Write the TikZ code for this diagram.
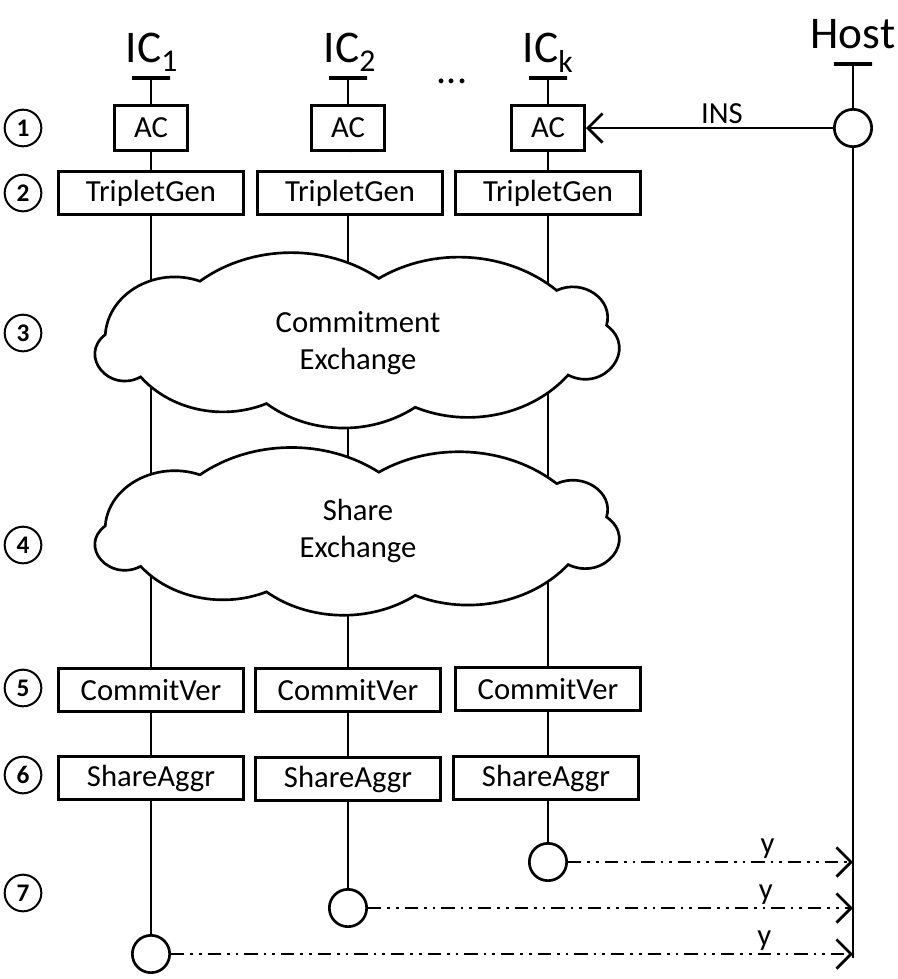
\documentclass[tikz,border=0pt]{standalone}
\usepackage{fontspec}
\setmainfont{Carlito}
\usetikzlibrary{arrows.meta, positioning}

% outline of an exchange cloud, around (0,0)
\newcommand{\cloudoutline}{(-152,-65) to[puff] (20,-68) to[puff] (191,-55)
  to[bend left=66, looseness=1.21] (239,-17) to[bigpuff] (202,37)
  to[puff] (55,72) to[puff] (-88,68) to[puff] (-209,39) to[bigpuff] (-243,-7)
  to[bend left=54, looseness=1.07] (-152,-65) -- cycle}

\begin{document}
\begin{tikzpicture}[
    x=0.75pt, y=-0.75pt,
    line width=2pt,
    box/.style={rectangle, draw, fill=white, minimum width=138.75pt, minimum height=32.5pt, inner sep=0pt, font=\fontsize{23}{27}\selectfont},
    acbox/.style={box, minimum width=55pt, minimum height=34pt},
    puff/.style={bend left=38, looseness=0.95},
    bigpuff/.style={bend left=85, looseness=1.57},
    exchline/.style={draw, fill=white},
    exchtext/.style={align=center, inner sep=0pt, font=\fontsize{23}{28}\selectfont},
    stepno/.style={circle, draw, line width=1.5pt, minimum size=27.5pt, inner sep=0pt, font=\bfseries\fontsize{19}{19}\selectfont},
    port/.style={circle, draw, fill=white, minimum size=28pt, inner sep=0pt},
    chip/.style={font=\fontsize{34}{34}\selectfont, anchor=base, inner sep=0pt},
    tee/.style={draw, line width=2.5pt, minimum width=28.5pt, minimum height=0pt, inner sep=0pt, outer sep=0pt},
    msg/.style={-{Straight Barb[length=11pt,width=22pt]}},
    result/.style={msg, dash pattern=on 10pt off 4.5pt on 2pt off 4.5pt on 2pt off 4.5pt},
    lbl/.style={above=1pt, inner sep=1pt, font=\fontsize{23}{27}\selectfont}
]
\useasboundingbox (0,0) rectangle (898,979);

% Chips and host
\node[chip] (ic1) at (152,62) {IC\textsubscript{1}};
\node[chip] (ic2) at (350,62) {IC\textsubscript{2}};
\node[chip] (ick) at (548,62) {IC\textsubscript{k}};
\node[chip] (host) at (853,48) {Host};
\node[font=\fontsize{30}{30}\selectfont] (dots) at (452,81) {...};

\node[tee] (t1) at (151,78) {};
\node[tee] (t2) at (348,78) {};
\node[tee] (tk) at (548,78) {};
\node[tee] (th) at (853,64) {};

% Steps
\node[stepno] (s1) at (23,128) {1};
\node[stepno] (s2) at (23,193) {2};
\node[stepno] (s3) at (23,333) {3};
\node[stepno] (s4) at (23,545) {4};
\node[stepno] (s5) at (23,688) {5};
\node[stepno] (s6) at (23,775) {6};
\node[stepno] (s7) at (23,893) {7};

% IC_1
\node[acbox] (ac1) at (151,128) {AC};
\node[box] (tg1) at (151,193) {TripletGen};
\node[box] (cv1) at (151,690) {CommitVer};
\node[box] (sa1) at (151,778) {ShareAggr};
\node[port] (o1) at (151,954) {};

% IC_2
\node[acbox] (ac2) at (348,128) {AC};
\node[box] (tg2) at (350,193) {TripletGen};
\node[box] (cv2) at (348,690) {CommitVer};
\node[box] (sa2) at (348,779) {ShareAggr};
\node[port] (o2) at (348,908) {};

% IC_k
\node[acbox] (ack) at (548,128) {AC};
\node[box] (tgk) at (548,193) {TripletGen};
\node[box] (cvk) at (548,689) {CommitVer};
\node[box] (sak) at (546,778) {ShareAggr};
\node[port] (ok) at (548,862) {};

% Host line
\node[port] (hc) at (853,128) {};
\coordinate (hk) at (853,862);
\coordinate (h2) at (853,908);
\coordinate (h1) at (853,954);
\coordinate (hend) at (853,958);

% Life lines
\draw (t1) -- (ac1); \draw (ac1) -- (tg1); \draw (tg1) -- (cv1); \draw (cv1) -- (sa1); \draw (sa1) -- (o1);
\draw (t2) -- (ac2); \draw (ac2) -- (tg2 |- ac2.south); \draw (tg2.south -| cv2) -- (cv2); \draw (cv2) -- (sa2); \draw (sa2) -- (o2);
\draw (tk) -- (ack); \draw (ack) -- (tgk); \draw (tgk) -- (cvk); \draw (cvk) -- (sak.north -| cvk); \draw (sak.south -| ok) -- (ok);
\draw (th) -- (hc); \draw (hc) -- (hend);

% Exchange rounds
\path[exchline, shift={(358,341)}, xscale=1.04, yscale=0.92] \cloudoutline;
\node[exchtext] (commit) at (358,343) {Commitment\\Exchange};
\path[exchline, shift={(358,532)}, xscale=1.04, yscale=0.88] \cloudoutline;
\node[exchtext] (share) at (358,531) {Share\\Exchange};

% Messages
\draw[msg] (hc) -- node[lbl, pos=0.45] {INS} (ack);
\draw[result] (ok) -- node[lbl, pos=0.70] {y} (hk);
\draw[result] (o2) -- node[lbl, pos=0.82] {y} (h2);
\draw[result] (o1) -- node[lbl, pos=0.87] {y} (h1);

\end{tikzpicture}
\end{document}
